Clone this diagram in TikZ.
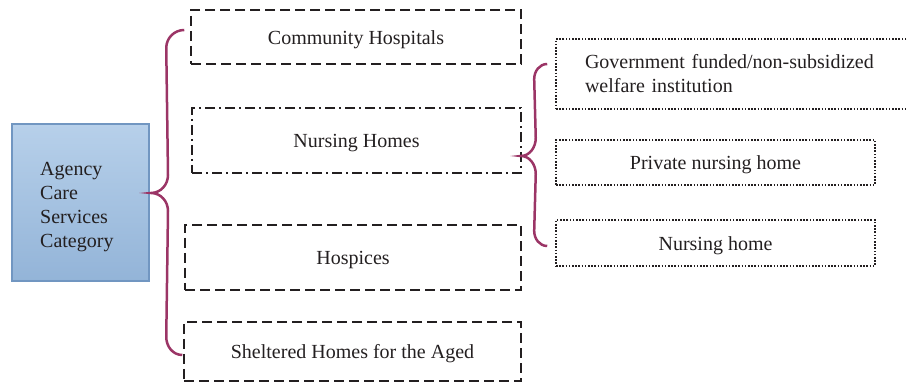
\documentclass[tikz,border=0pt]{standalone}
\usepackage{fontspec}
\setmainfont{Liberation Serif}
\usepackage{tikz}
\usetikzlibrary{calc,positioning}
\definecolor{ink}{HTML}{231F20}
\definecolor{bracecol}{HTML}{9B3566}
\definecolor{catedge}{HTML}{7196C1}
\definecolor{cattop}{HTML}{B7D0EA}
\definecolor{catbot}{HTML}{93B4D8}
\tikzset{
  lbl/.style={text=ink, font=\fontsize{20}{24}\selectfont},
  oneline/.style={text height=18.5pt, text depth=3.5pt},
  catbox/.style={draw=catedge, line width=2pt, top color=cattop, bottom color=catbot,
    minimum width=137pt, minimum height=157pt, inner sep=0pt},
  dashbox/.style={lbl, oneline, draw=ink, line width=1.5pt, dash pattern=on 10pt off 5pt, inner sep=0pt},
  dashdotbox/.style={lbl, oneline, draw=ink, line width=1.5pt, dash pattern=on 10pt off 4pt on 2pt off 4pt, inner sep=0pt},
  dotbox/.style={lbl, draw=ink, line width=1.6pt, dash pattern=on 1.6pt off 1.6pt, inner sep=0pt},
  bracestroke/.style={draw=bracecol, line width=2.5pt}
}
\begin{document}
\begin{tikzpicture}[x=1pt, y=1pt]
  \useasboundingbox (0,0) rectangle (907,382);

  \node[catbox] (cat) at (80.5,179.5) {};
  \node[lbl, align=left, anchor=west, inner sep=0pt] (catlbl) at ([xshift=29pt, yshift=-5pt]cat.west)
    {Agency\\Care\\Services\\Category};

  \node[dashbox, minimum width=330pt, minimum height=54pt] (community) at (356,345) {Community Hospitals};
  \node[dashdotbox, minimum width=329pt, minimum height=65pt] (nursing) at (356.5,241.5) {Nursing Homes};
  \node[dashbox, minimum width=336pt, minimum height=65pt] (hospices) at (353,124.5) {Hospices};
  \node[dashbox, minimum width=337pt, minimum height=59pt] (sheltered) at (352.5,30.5) {Sheltered Homes for the Aged};

  \node[dotbox, minimum height=70pt, text width=351pt, inner xsep=29pt, align=left] (gov) at (760.5,308)
    {Government funded/non-subsidized\\welfare institution};
  \node[dotbox, oneline, minimum width=319pt, minimum height=45pt] (private) at (715.5,219.5) {Private nursing home};
  \node[dotbox, oneline, minimum width=319pt, minimum height=46pt] (nhome) at (715.5,139) {Nursing home};

  \coordinate (b1top) at ([xshift=-6pt, yshift=7pt]community.west);
  \coordinate (b1tip) at ([xshift=1pt, yshift=9.5pt]cat.east);
  \coordinate (b1bot) at ([xshift=-1pt, yshift=-3.5pt]sheltered.west);
  \draw[bracestroke] (b1top) to[out=180, in=90] ($(b1top)+(-18,-18)$)
    -- ($(b1tip)+(17,18)$) to[out=-90, in=0] (b1tip)
    to[out=0, in=90] ($(b1tip)+(17,-18)$)
    -- ($(b1bot)+(-16,18)$) to[out=-90, in=180] (b1bot);

  \coordinate (b2top) at ([xshift=-8pt, yshift=10pt]gov.west);
  \coordinate (b2tip) at ([xshift=-1pt, yshift=-15.5pt]nursing.east);
  \coordinate (b2bot) at ([xshift=-8pt, yshift=-3pt]nhome.west);
  \draw[bracestroke] (b2top) to[out=180, in=90] ($(b2top)+(-13,-15)$)
    -- ($(b2tip)+(15,18)$) to[out=-90, in=0] (b2tip)
    to[out=0, in=90] ($(b2tip)+(15,-18)$)
    -- ($(b2bot)+(-13,15)$) to[out=-90, in=180] (b2bot);
\end{tikzpicture}
\end{document}
